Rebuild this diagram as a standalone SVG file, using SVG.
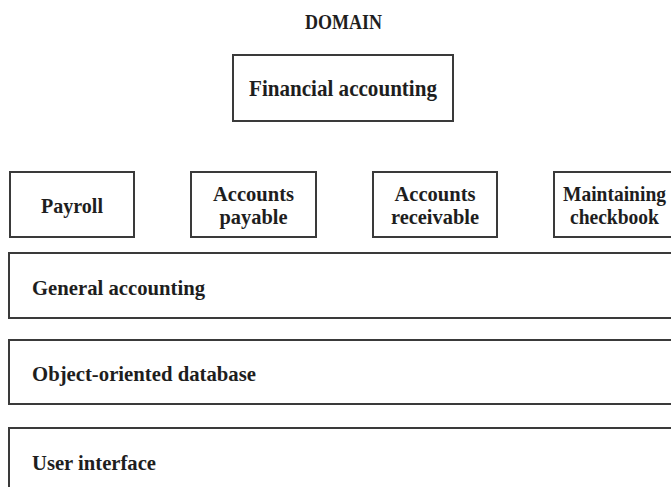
<svg xmlns="http://www.w3.org/2000/svg" width="671" height="487" viewBox="0 0 671 487">
<style>
rect.box{fill:#fff;stroke:#3a3a3a;stroke-width:2}
text{font-family:"Liberation Serif","Times New Roman",serif;font-weight:bold;fill:#1e1e1e;font-size:22px}
.c{text-anchor:middle}
</style>
<rect width="671" height="487" fill="#fff"/>
<g id="title"><text class="c" x="343.5" y="29" style="font-size:20px" textLength="77" lengthAdjust="spacingAndGlyphs">DOMAIN</text></g>
<g id="financial-accounting"><rect class="box" x="233" y="55" width="220" height="66"/><text class="c" x="343" y="96" style="font-size:23px" textLength="188" lengthAdjust="spacingAndGlyphs">Financial accounting</text></g>
<g id="payroll"><rect class="box" x="10" y="172" width="124" height="65"/><text class="c" x="72" y="213" textLength="62" lengthAdjust="spacingAndGlyphs">Payroll</text></g>
<g id="accounts-payable"><rect class="box" x="191" y="172" width="125" height="65"/><text class="c" x="253.5" y="201" textLength="81" lengthAdjust="spacingAndGlyphs">Accounts</text><text class="c" x="253.5" y="224" textLength="68" lengthAdjust="spacingAndGlyphs">payable</text></g>
<g id="accounts-receivable"><rect class="box" x="373" y="172" width="124" height="65"/><text class="c" x="435" y="201" textLength="81" lengthAdjust="spacingAndGlyphs">Accounts</text><text class="c" x="435" y="224" textLength="88" lengthAdjust="spacingAndGlyphs">receivable</text></g>
<g id="maintaining-checkbook"><rect class="box" x="554" y="172" width="124" height="65"/><text class="c" x="614.5" y="201" textLength="103" lengthAdjust="spacingAndGlyphs">Maintaining</text><text class="c" x="614.5" y="224" textLength="89" lengthAdjust="spacingAndGlyphs">checkbook</text></g>
<g id="general-accounting"><rect class="box" x="9" y="253" width="700" height="65"/><text x="32" y="295" textLength="173" lengthAdjust="spacingAndGlyphs">General accounting</text></g>
<g id="object-oriented-database"><rect class="box" x="9" y="340" width="700" height="64"/><text x="32" y="381" textLength="224" lengthAdjust="spacingAndGlyphs">Object-oriented database</text></g>
<g id="user-interface"><rect class="box" x="9" y="428" width="700" height="80"/><text x="32" y="470" textLength="124" lengthAdjust="spacingAndGlyphs">User interface</text></g>
<g id="connectors"></g>
</svg>
